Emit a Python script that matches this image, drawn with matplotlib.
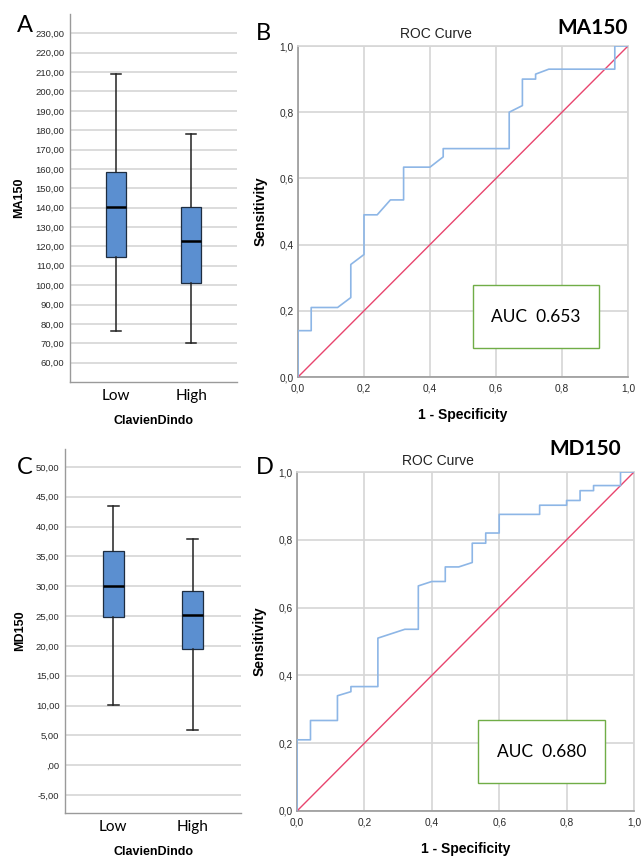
import matplotlib
matplotlib.use("Agg")
import matplotlib.pyplot as plt
from matplotlib.patches import Rectangle

# box plot summaries (Low / High ClavienDindo)
groups = ["Low", "High"]
ma150_whislo = [76.4, 69.9]
ma150_q1 = [114.4, 100.9]
ma150_med = [140.1, 122.9]
ma150_q3 = [158.6, 140.1]
ma150_whishi = [209.2, 178.3]

md150_whislo = [10.1, 5.9]
md150_q1 = [24.9, 19.5]
md150_med = [30.1, 25.2]
md150_q3 = [35.9, 29.2]
md150_whishi = [43.4, 37.9]

# ROC curves (1 - specificity, sensitivity)
ma150_fpr = [0, 0, 0.04, 0.04, 0.12, 0.16, 0.16, 0.20, 0.20, 0.24, 0.28, 0.32, 0.32,
             0.40, 0.44, 0.44, 0.64, 0.64, 0.68, 0.68, 0.72, 0.72, 0.76, 0.96, 0.96, 1.0]
ma150_tpr = [0, 0.14, 0.14, 0.21, 0.21, 0.24, 0.34, 0.37, 0.49, 0.49, 0.535, 0.535, 0.634,
             0.634, 0.665, 0.69, 0.69, 0.80, 0.82, 0.90, 0.90, 0.915, 0.93, 0.93, 1.0, 1.0]
md150_fpr = [0, 0, 0.04, 0.04, 0.12, 0.12, 0.16, 0.16, 0.24, 0.24, 0.32, 0.36, 0.36, 0.40,
             0.44, 0.44, 0.48, 0.52, 0.52, 0.56, 0.56, 0.60, 0.60, 0.72, 0.72, 0.80, 0.80,
             0.84, 0.84, 0.88, 0.88, 0.96, 0.96, 1.0]
md150_tpr = [0, 0.21, 0.21, 0.267, 0.267, 0.34, 0.352, 0.367, 0.367, 0.51, 0.536, 0.536,
             0.664, 0.677, 0.677, 0.72, 0.72, 0.733, 0.79, 0.79, 0.82, 0.82, 0.875, 0.875,
             0.902, 0.902, 0.916, 0.916, 0.945, 0.945, 0.96, 0.96, 1.0, 1.0]
ma150_auc = 0.653
md150_auc = 0.680

W, H = 641, 858
SPSS = "Liberation Sans"
CAL = "Lato"
BOX_BLUE = "#5B8FD0"
GRID = "#D6D6D6"
SPINE = "#9A9A9A"
TICK_COL = "#2A2A2A"


def px_axes(fig, left, top, right, bottom):
    return fig.add_axes([left / W, 1 - bottom / H, (right - left) / W, (bottom - top) / H])


def comma(v, nd):
    s = f"{v:.{nd}f}".replace(".", ",")
    if s.startswith("0,") and nd == 2:
        s = s[1:]
    return s


def draw_box(ax, whislo, q1, med, q3, whishi, ylim, yticks, ylabel):
    stats = []
    for i, g in enumerate(groups):
        stats.append(dict(label=g, whislo=whislo[i], q1=q1[i], med=med[i],
                          q3=q3[i], whishi=whishi[i], fliers=[]))
    ax.bxp(stats, positions=[0, 1], widths=0.26, patch_artist=True,
           boxprops=dict(facecolor=BOX_BLUE, edgecolor="#1E2D40", linewidth=0.9),
           medianprops=dict(color="black", linewidth=1.8),
           whiskerprops=dict(color="#222222", linewidth=1.1),
           capprops=dict(color="#222222", linewidth=1.1), capwidths=0.13,
           zorder=3)
    ax.set_xlim(-0.61, 1.61)
    ax.set_ylim(*ylim)
    ax.set_yticks(yticks)
    ax.set_yticklabels([comma(v, 2) for v in yticks], fontsize=6.8, family=SPSS, color=TICK_COL)
    ax.set_xticks([0, 1])
    ax.set_xticklabels(groups, fontsize=11, family=CAL)
    ax.tick_params(length=0)
    ax.tick_params(axis="y", pad=4)
    ax.tick_params(axis="x", pad=5)
    ax.yaxis.grid(True, color=GRID, linewidth=1.2, zorder=0)
    ax.set_axisbelow(True)
    for s in ["top", "right"]:
        ax.spines[s].set_visible(False)
    for s in ["left", "bottom"]:
        ax.spines[s].set_color(SPINE)
        ax.spines[s].set_linewidth(1.0)
    ax.set_ylabel(ylabel, fontsize=9, family=SPSS, fontweight="bold", labelpad=7)
    ax.set_xlabel("ClavienDindo", fontsize=9, family=SPSS, fontweight="bold", labelpad=9)


def draw_roc(ax, fpr, tpr, auc, box):
    ax.plot([0, 1], [0, 1], color="#E8456E", linewidth=1.0, zorder=3)
    ax.plot(fpr, tpr, color="#8DB6E6", linewidth=1.2, zorder=4)
    ax.set_xlim(0, 1)
    ax.set_ylim(0, 1)
    ticks = [0, 0.2, 0.4, 0.6, 0.8, 1.0]
    ax.set_xticks(ticks)
    ax.set_yticks(ticks)
    ax.set_xticklabels([comma(v, 1) for v in ticks], fontsize=7.3, family=SPSS, color=TICK_COL)
    ax.set_yticklabels([comma(v, 1) for v in ticks], fontsize=7.3, family=SPSS, color=TICK_COL)
    ax.tick_params(length=0)
    ax.tick_params(axis="y", pad=3)
    ax.tick_params(axis="x", pad=5)
    ax.grid(True, color=GRID, linewidth=1.2, zorder=0)
    ax.set_axisbelow(True)
    for s in ["top", "right"]:
        ax.spines[s].set_color(GRID)
        ax.spines[s].set_linewidth(1.2)
    for s in ["left", "bottom"]:
        ax.spines[s].set_color(SPINE)
        ax.spines[s].set_linewidth(1.2)
    ax.set_xlabel("1 - Specificity", fontsize=10, family=SPSS, fontweight="bold", labelpad=10)
    ax.set_ylabel("Sensitivity", fontsize=10, family=SPSS, fontweight="bold", labelpad=9)
    x0, y0, x1, y1 = box
    ax.add_patch(Rectangle((x0, y0), x1 - x0, y1 - y0, transform=ax.transAxes,
                           facecolor="white", edgecolor="#70AD47", linewidth=1.0, zorder=6))
    ax.text((x0 + x1) / 2, (y0 + y1) / 2, f"AUC  {auc:.3f}", transform=ax.transAxes,
            ha="center", va="center", fontsize=12.5, family=CAL, zorder=7)


fig = plt.figure(figsize=(W / 100, H / 100), dpi=100)

axA = px_axes(fig, 70, 14, 237, 382)
draw_box(axA, ma150_whislo, ma150_q1, ma150_med, ma150_q3, ma150_whishi,
         (50, 240), list(range(60, 231, 10)), "MA150")

axB = px_axes(fig, 298, 46, 628, 377)
draw_roc(axB, ma150_fpr, ma150_tpr, ma150_auc, (0.53, 0.088, 0.913, 0.277))

axC = px_axes(fig, 65, 449, 241, 813)
draw_box(axC, md150_whislo, md150_q1, md150_med, md150_q3, md150_whishi,
         (-8, 53), list(range(-5, 51, 5)), "MD150")

axD = px_axes(fig, 297, 472, 634, 811)
draw_roc(axD, md150_fpr, md150_tpr, md150_auc, (0.537, 0.082, 0.915, 0.269))


# panel letters and titles
def ftext(x, y, s, **kw):
    fig.text(x / W, 1 - y / H, s, **kw)


ftext(25, 25, "A", fontsize=17, family=CAL, ha="center", va="center")
ftext(263, 33, "B", fontsize=17, family=CAL, ha="center", va="center")
ftext(25, 467, "C", fontsize=17, family=CAL, ha="center", va="center")
ftext(265, 467, "D", fontsize=17, family=CAL, ha="center", va="center")

ftext(436, 34, "ROC Curve", fontsize=10, family=SPSS, color="#222222", ha="center", va="center")
ftext(438, 461, "ROC Curve", fontsize=10, family=SPSS, color="#222222", ha="center", va="center")
ftext(593, 28, "MA150", fontsize=15, family=CAL, fontweight="bold", ha="center", va="center")
ftext(585, 449, "MD150", fontsize=15, family=CAL, fontweight="bold", ha="center", va="center")

fig.savefig("out.png", dpi=100)
